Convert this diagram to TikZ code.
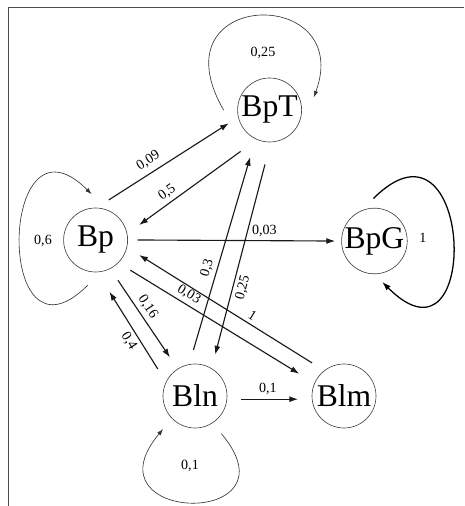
\documentclass[tikz,border=0pt]{standalone}
\usepackage{fontspec}
\setmainfont{Liberation Serif}
\usetikzlibrary{arrows.meta}

\tikzset{
    stnode/.style={circle, draw=black!75, line width=0.45pt, minimum size=1.6cm,
        inner sep=0pt, outer sep=0.35cm, font=\fontsize{22.5}{24}\selectfont},
    trans/.style={line width=0.8pt, black!90, -{Latex[length=0.22cm,width=0.15cm]}},
    selfloop/.style={line width=0.45pt, black!80, -{Latex[length=0.16cm,width=0.11cm]}},
    prob/.style={font=\fontsize{10}{12}\selectfont, inner sep=2.5pt, black},
}

\begin{document}
\begin{tikzpicture}
    \useasboundingbox (0,0) rectangle (11.6,12.65);
    \draw[black!70, line width=0.6pt] (0.2,0) -- (0.2,12.475) -- (11.6,12.475);

    % states
    \node[stnode] (BpT) at (6.74,9.9) {BpT};
    \node[stnode] (Bp)  at (2.39,6.65) {Bp};
    \node[stnode] (BpG) at (9.36,6.625) {BpG};
    \node[stnode] (Bln) at (4.875,2.75) {Bln};
    \node[stnode] (Blm) at (8.6,2.75) {Blm};

    % transitions
    \draw[trans, shorten <=-0.12cm, shorten >=-0.08cm] (Bp.68) -- node[prob, sloped, above, pos=0.37, inner sep=4pt] (p09) {0,09} (BpT.199);
    \draw[trans, shorten <=0.12cm] (BpT.237) -- node[prob, sloped, above, pos=0.68] (p05) {0,5} (Bp.19);
    \draw[trans, shorten <=-0.1cm, shorten >=-0.19cm] (Bp.0) -- node[prob, above, pos=0.66] (pG) {0,03} (BpG.180);
    \draw[trans, shorten >=0.12cm] (Bln.92) -- node[prob, sloped, above, pos=0.4] (p03) {0,3} (BpT.247);
    \draw[trans, shorten <=0.22cm] (BpT.267) -- node[prob, sloped, below, pos=0.65] (p025) {0,25} (Bln.64);
    \draw[trans] (Blm.134) -- node[prob, sloped, above, pos=0.37] (p1) {1} (Bp.341);
    \draw[trans, shorten >=0.1cm] (Bp.319) -- node[prob, sloped, above, pos=0.31] (pm) {0,03} (Blm.154);
    \draw[trans] (Bp.299) -- node[prob, sloped, above, pos=0.42] (p016) {0,16} (Bln.123);
    \draw[trans, shorten >=0.2cm] (Bln.144) -- node[prob, sloped, below, pos=0.39] (p04) {0,4} (Bp.282);
    \draw[trans] (Bln.356) -- node[prob, above, pos=0.47] (pn) {0,1} (Blm.184);

    % self loops
    \draw[selfloop] (BpT.180) .. controls +(120:3.5cm) and +(70:3cm) .. (BpT.16);
    \draw[selfloop] (Bp.260) .. controls +(225:3.3cm) and +(135:3.3cm) .. (Bp.95);
    \draw[selfloop, line width=0.9pt, black, -{Latex[length=0.22cm,width=0.15cm]},
        shorten <=-0.15cm, shorten >=-0.15cm] (BpG.86) .. controls +(45:3.4cm) and +(-45:3.4cm) .. (BpG.285);
    \draw[selfloop] (Bln.305) .. controls +(310:3.1cm) and +(230:3.1cm) .. (Bln.226);

    \node[prob] (lT) at (6.575,11.325) {0,25};
    \node[prob] (lp) at (1.075,6.625) {0,6};
    \node[prob] (lG) at (10.575,6.7) {1};
    \node[prob] (ln) at (4.75,1.0) {0,1};
\end{tikzpicture}
\end{document}
